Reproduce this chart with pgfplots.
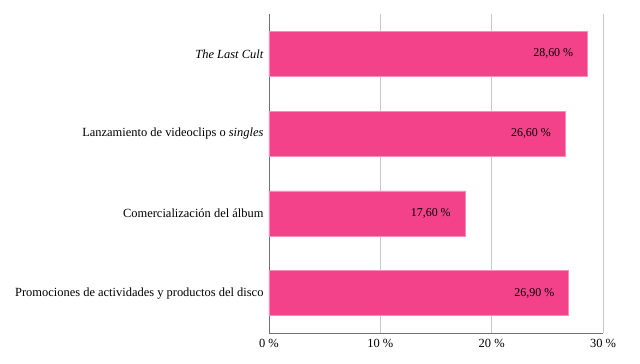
\documentclass[border=0pt]{standalone}
\usepackage{pgfplots}
\pgfplotsset{compat=1.18}
\usepackage{fontspec}
\setmainfont{Liberation Serif}
\definecolor{barpink}{HTML}{F4428A}
\definecolor{baredge}{HTML}{F78DB5}
\definecolor{gridgray}{HTML}{C8C8C8}
\definecolor{axisgray}{HTML}{707070}
\begin{document}
\begin{tikzpicture}
\begin{axis}[
  scale only axis,
  width=334bp, height=319bp,
  xmin=0, xmax=30,
  ymin=-0.5, ymax=3.5,
  axis x line*=bottom,
  axis y line*=left,
  axis line style={axisgray, line width=0.8pt, -},
  xtick={0,10,20,30},
  xticklabels={0~\%,10~\%,20~\%,30~\%},
  ytick={0,1,2,3},
  yticklabels={Promociones de actividades y productos del disco,
               Comercialización del álbum,
               Lanzamiento de videoclips o \textit{singles},
               \textit{The Last Cult}},
  major tick length=0pt,
  xmajorgrids=true,
  grid style={gridgray, line width=0.8pt},
  tick label style={font=\fontsize{12.5}{14}\selectfont, black},
  xticklabel style={yshift=-3bp},
  yticklabel style={xshift=-2bp},
  /pgf/number format/assume math mode=true,
  xbar,
  bar width=45bp,
  point meta=x,
  nodes near coords={\pgfmathprintnumber[fixed, fixed zerofill, precision=2, use comma]{\pgfplotspointmeta}~\%},
  nodes near coords style={anchor=east, inner sep=0pt, xshift=-14bp, font=\fontsize{12}{14}\selectfont, black},
  clip=false,
]
\addplot[fill=barpink, draw=baredge, line width=0.5pt] coordinates {
  (26.9,0)
  (17.6,1)
  (26.6,2)
  (28.6,3)
};
\end{axis}
\path[use as bounding box] (-269bp,-31bp) rectangle (371bp,333bp);
\end{tikzpicture}
\end{document}
